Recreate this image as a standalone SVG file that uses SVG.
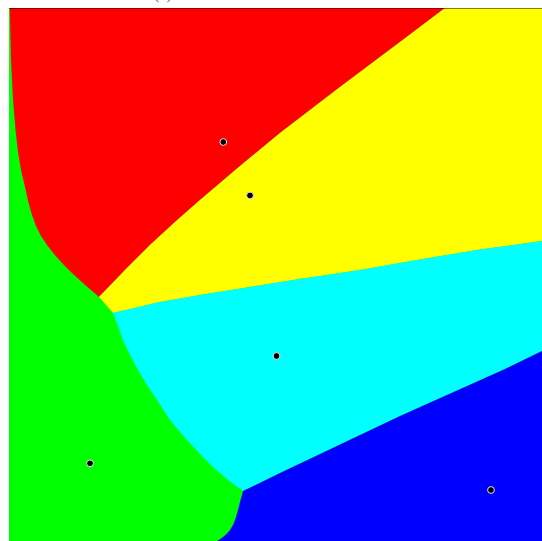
<svg xmlns="http://www.w3.org/2000/svg" width="542" height="541" viewBox="0 0 542 541">
<style>
.site{fill:#000;stroke:#e6e6e6;stroke-width:1}
.cap{font-family:"Liberation Serif",serif;font-size:16px;fill:#666}
</style>
<rect width="542" height="541" fill="#fff"/>
<text class="cap" x="163" y="-1.5" text-anchor="middle">(a)</text>
<g id="regions">
<rect id="green" x="9" y="8" width="533" height="533" fill="#00ff00"/>
<path id="red" fill="#ff0000" d="M9,8 L445,8 L400,42 L340,87 L280,133 L240,166 L200,200 L175,222 L150,245 L125,270 L99,297 L84,284 L72,273 L62,263 L54,254 L47,245 L41,236 L36,226 L32,215 L28,201 L25,187 L21,170 L18,152 L15.5,130 L13,100 L11,60 L9.8,8 Z"/>
<path id="yellow" fill="#ffff00" d="M445,8 L542,8 L542,241 L480,249.5 L420,259.5 L360,270 L300,279 L250,287 L200,295 L160,302 L113,313 L99,297 L125,270 L150,245 L175,222 L200,200 L240,166 L280,133 L340,87 L400,42 Z"/>
<path id="cyan" fill="#00ffff" d="M113,313 L160,302 L200,295 L250,287 L300,279 L360,270 L420,259.5 L480,249.5 L542,241 L542,351 L505,369 L400,416 L280,473 L243,491 L228,480 L213,467 L200,454 L188,441 L180,432 L170,420 L157,400 L147,385 L138,370 L130,355 L123,340 L118,326 Z"/>
<path id="blue" fill="#0000ff" d="M243,491 L280,473 L400,416 L505,369 L542,351 L542,541 L217,541 L221,538.5 L226,534.5 L230,530 L233.5,524 L236,517 L238,510 L240,502 Z"/>
</g>
<line x1="9" y1="8.5" x2="542" y2="8.5" stroke="#000" stroke-opacity="0.5" stroke-width="1"/>
<g id="sites">
<circle class="site" cx="223.3" cy="142" r="3.4"/>
<circle class="site" cx="250" cy="195.5" r="3.4"/>
<circle class="site" cx="276.5" cy="356" r="3.4"/>
<circle class="site" cx="90" cy="463.3" r="3.4"/>
<circle class="site" cx="491" cy="490" r="3.4"/>
</g>
</svg>
